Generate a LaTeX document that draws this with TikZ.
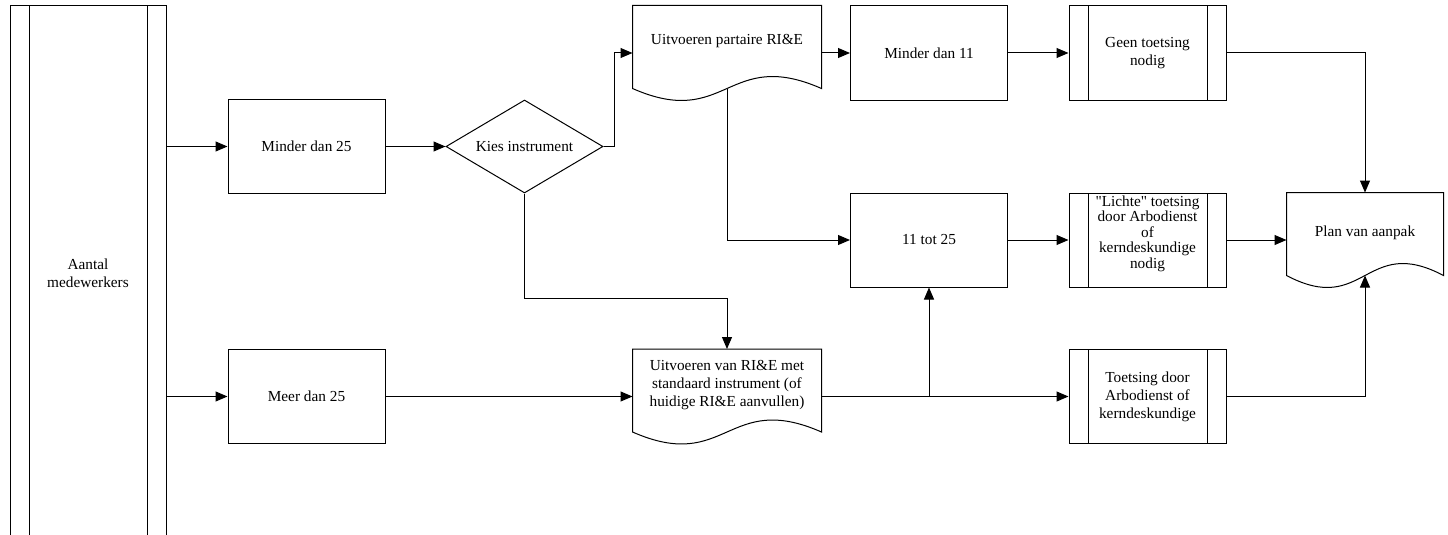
\documentclass[tikz,border=0pt]{standalone}
\usepackage{fontspec}
\setmainfont{Liberation Serif}
\newfontfamily\rawserif{Liberation Serif}[Ligatures=TeXOff]
\usetikzlibrary{arrows.meta,shapes.geometric,calc}
\newcommand\liftlines[2]{\raisebox{#1}[0pt][0pt]{\begin{tabular}{@{}c@{}}#2\end{tabular}}}
\newcommand\sq{{\rawserif\char34}}
\begin{document}
\begin{tikzpicture}[x=1pt,y=-1pt,
  line width=1pt,
  every node/.style={font=\fontsize{15.3}{18}\selectfont, align=center, inner sep=0pt},
  proc/.style={draw, rectangle, minimum width=157pt, minimum height=94pt},
  sub/.style={proc, path picture={
     \draw ([xshift=19pt]path picture bounding box.north west) -- ([xshift=19pt]path picture bounding box.south west);
     \draw ([xshift=-19pt]path picture bounding box.north east) -- ([xshift=-19pt]path picture bounding box.south east);}},
  doc/.style={rectangle, minimum width=188pt, minimum height=94pt},
  decision/.style={draw, diamond, minimum width=157pt, minimum height=93pt, aspect=1.69},
  arr/.style={-{Triangle[length=12pt,width=10pt]}}
]
\fill[white] (0,0) rectangle (1448,535);
\useasboundingbox (0,0) rectangle (1448,535);

% nodes
\node[sub, minimum width=156pt, minimum height=534pt] (aantal) at (88,273) {Aantal\\medewerkers};
\node[proc] (m25) at (306.5,146.5) {Minder dan 25};
\node[decision] (kies) at (524.5,146.5) {Kies instrument};
\node[doc] (part) at (727,53) {\liftlines{8.2pt}{Uitvoeren partaire RI\&E}};
\node[proc] (min11) at (929,53) {Minder dan 11};
\node[sub] (geen) at (1147.5,53) {Geen toetsing\\nodig};
\node[proc] (t1125) at (929,240) {11 tot 25};
\node[sub, font=\fontsize{15.3}{15.5}\selectfont] (lichte) at (1147.5,240) {\liftlines{2.2pt}{\sq Lichte\sq{} toetsing\\door Arbodienst\\of\\kerndeskundige\\nodig}};
\node[doc, minimum width=156pt] (plan) at (1365,240) {\liftlines{3.2pt}{Plan van aanpak}};
\node[proc] (meer25) at (306.5,396.5) {Meer dan 25};
\node[doc] (std) at (727,396.5) {\liftlines{7.7pt}{Uitvoeren van RI\&E met\\standaard instrument (of\\huidige RI\&E aanvullen)}};
\node[sub] (toets) at (1147.5,396.5) {Toetsing door\\Arbodienst of\\kerndeskundige};

% document outlines
\foreach \d in {part,std,plan}{
  \draw let \p1=(\d.south west), \p2=(\d.north east) in
    (\x1,\y2) -- (\x2,\y2) -- (\x2,\y1+12pt)
    .. controls ({(\x1+\x2)/2},\y1+53.5pt) and ({(\x1+\x2)/2},\y1-29.5pt) ..
    (\x1,\y1+12pt) -- cycle;
}
\coordinate (partout) at ([yshift=12pt]part.south);
\coordinate (planin) at ([yshift=12pt]plan.south);

% connectors
\draw[arr] (aantal.east |- m25.west) -- (m25.west);
\draw[arr] (aantal.east |- meer25.west) -- (meer25.west);
\draw[arr] (m25.east) -- (kies.west);
\draw[arr] (kies.east) -- ++(11,0) |- (part.west);
\draw[arr] (part.east) -- (min11.west);
\draw[arr] (min11.east) -- (geen.west);
\draw[arr] (geen.east) -| (plan.north);
\draw[arr] (partout) |- (t1125.west);
\draw[arr] (t1125.east) -- (lichte.west);
\draw[arr] (lichte.east) -- (plan.west);
\draw[arr] (kies.south) -- ++(0,105) -| (std.north);
\draw[arr] (meer25.east) -- (std.west);
\draw[arr] (std.east) -- (toets.west);
\draw[arr] (std.east -| t1125.south) -- (t1125.south);
\draw[arr] (toets.east) -| (planin);
\end{tikzpicture}
\end{document}
